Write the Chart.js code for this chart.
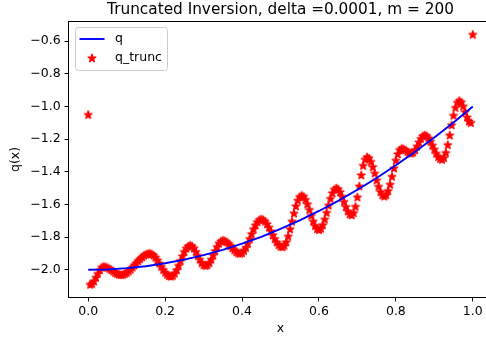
<!DOCTYPE html>
<html>
<head>
<meta charset="utf-8">
<script src="https://cdn.jsdelivr.net/npm/chart.js@4/dist/chart.umd.min.js"></script>
<style>
  html, body { margin: 0; padding: 0; background: #fff; overflow: hidden; }
  canvas { display: block; }
</style>
</head>
<body>
<canvas id="chart" width="500" height="343" style="width:500px;height:343px"></canvas>
<script>
// exact curve q
const qX = [0, 0.05, 0.1, 0.15, 0.2, 0.25, 0.3, 0.35, 0.4, 0.45, 0.5,
  0.55, 0.6, 0.65, 0.7, 0.75, 0.8, 0.85, 0.9, 0.95, 1];
const qY = [-2.0, -1.998, -1.99, -1.978, -1.96, -1.938, -1.91, -1.878, -1.84, -1.798, -1.75,
  -1.698, -1.64, -1.578, -1.51, -1.438, -1.36, -1.278, -1.19, -1.098, -1.0];

// truncated inversion
const truncX = [
  0, 0.005, 0.01, 0.015, 0.02, 0.025, 0.03, 0.035, 0.04, 0.045,
  0.05, 0.055, 0.06, 0.065, 0.07, 0.075, 0.08, 0.085, 0.09, 0.095,
  0.1, 0.105, 0.11, 0.115, 0.12, 0.125, 0.13, 0.135, 0.14, 0.145,
  0.15, 0.155, 0.16, 0.165, 0.17, 0.175, 0.18, 0.185, 0.19, 0.195,
  0.2, 0.205, 0.21, 0.215, 0.22, 0.225, 0.23, 0.235, 0.24, 0.245,
  0.25, 0.255, 0.26, 0.265, 0.27, 0.275, 0.28, 0.285, 0.29, 0.295,
  0.3, 0.305, 0.31, 0.315, 0.32, 0.325, 0.33, 0.335, 0.34, 0.345,
  0.35, 0.355, 0.36, 0.365, 0.37, 0.375, 0.38, 0.385, 0.39, 0.395,
  0.4, 0.405, 0.41, 0.415, 0.42, 0.425, 0.43, 0.435, 0.44, 0.445,
  0.45, 0.455, 0.46, 0.465, 0.47, 0.475, 0.48, 0.485, 0.49, 0.495,
  0.5, 0.505, 0.51, 0.515, 0.52, 0.525, 0.53, 0.535, 0.54, 0.545,
  0.55, 0.555, 0.56, 0.565, 0.57, 0.575, 0.58, 0.585, 0.59, 0.595,
  0.6, 0.605, 0.61, 0.615, 0.62, 0.625, 0.63, 0.635, 0.64, 0.645,
  0.65, 0.655, 0.66, 0.665, 0.67, 0.675, 0.68, 0.685, 0.69, 0.695,
  0.7, 0.705, 0.71, 0.715, 0.72, 0.725, 0.73, 0.735, 0.74, 0.745,
  0.75, 0.755, 0.76, 0.765, 0.77, 0.775, 0.78, 0.785, 0.79, 0.795,
  0.8, 0.805, 0.81, 0.815, 0.82, 0.825, 0.83, 0.835, 0.84, 0.845,
  0.85, 0.855, 0.86, 0.865, 0.87, 0.875, 0.88, 0.885, 0.89, 0.895,
  0.9, 0.905, 0.91, 0.915, 0.92, 0.925, 0.93, 0.935, 0.94, 0.945,
  0.95, 0.955, 0.96, 0.965, 0.97, 0.975, 0.98, 0.985, 0.99, 0.995,
  1
];
const truncY = [
  -1.05, -2.09, -2.085, -2.069, -2.047, -2.023, -2.001, -1.985, -1.98, -1.982,
  -1.986, -1.993, -2.001, -2.009, -2.018, -2.024, -2.028, -2.03, -2.029, -2.024,
  -2.018, -2.009, -1.998, -1.985, -1.972, -1.958, -1.945, -1.933, -1.922, -1.912,
  -1.906, -1.901, -1.90, -1.903, -1.911, -1.924, -1.941, -1.960, -1.980, -1.999,
  -2.016, -2.029, -2.037, -2.04, -2.035, -2.022, -2.001, -1.974, -1.945, -1.916,
  -1.889, -1.868, -1.855, -1.85, -1.855, -1.868, -1.889, -1.913, -1.936, -1.957,
  -1.970, -1.975, -1.970, -1.957, -1.936, -1.911, -1.884, -1.859, -1.838, -1.825,
  -1.82, -1.822, -1.829, -1.840, -1.853, -1.867, -1.880, -1.891, -1.898, -1.90,
  -1.896, -1.883, -1.864, -1.839, -1.810, -1.780, -1.751, -1.726, -1.707, -1.694,
  -1.69, -1.693, -1.704, -1.719, -1.740, -1.763, -1.787, -1.810, -1.831, -1.847,
  -1.857, -1.86, -1.852, -1.830, -1.795, -1.751, -1.703, -1.654, -1.610, -1.575,
  -1.553, -1.545, -1.551, -1.570, -1.598, -1.632, -1.668, -1.703, -1.730, -1.749,
  -1.755, -1.747, -1.725, -1.691, -1.650, -1.605, -1.564, -1.530, -1.508, -1.50,
  -1.506, -1.524, -1.551, -1.583, -1.614, -1.641, -1.659, -1.665, -1.651, -1.613,
  -1.555, -1.488, -1.420, -1.362, -1.324, -1.31, -1.317, -1.338, -1.370, -1.409,
  -1.451, -1.490, -1.522, -1.543, -1.55, -1.541, -1.516, -1.477, -1.429, -1.378,
  -1.330, -1.291, -1.266, -1.257, -1.260, -1.267, -1.277, -1.284, -1.287, -1.281,
  -1.266, -1.244, -1.219, -1.197, -1.181, -1.176, -1.180, -1.193, -1.213, -1.238,
  -1.263, -1.288, -1.308, -1.320, -1.325, -1.314, -1.283, -1.235, -1.176, -1.114,
  -1.055, -1.007, -0.976, -0.965, -0.974, -0.999, -1.033, -1.066, -1.091, -1.10,
  -0.56
];

const xTicks = [0, 0.2, 0.4, 0.6, 0.8, 1.0];
const yTicks = [-2.0, -1.8, -1.6, -1.4, -1.2, -1.0, -0.8, -0.6];

const FONT = "'DejaVu Sans', sans-serif";

// filled five point star like matplotlib's '*' marker
function makeStar(color) {
  const c = document.createElement("canvas");
  c.width = 12;
  c.height = 12;
  const g = c.getContext("2d");
  const R = 4.1, r = R * 0.382;
  g.beginPath();
  for (let i = 0; i < 10; i++) {
    const rad = i % 2 === 0 ? R : r;
    const a = -Math.PI / 2 + (i * Math.PI) / 5;
    const px = 6 + rad * Math.cos(a);
    const py = 6.3 + rad * Math.sin(a);
    if (i === 0) g.moveTo(px, py); else g.lineTo(px, py);
  }
  g.closePath();
  g.fillStyle = color;
  g.fill();
  g.lineWidth = 1.3;
  g.lineJoin = "round";
  g.strokeStyle = color;
  g.stroke();
  return c;
}
const star = makeStar("#ff0000");

const frame = {
  id: "frame",
  afterDatasetsDraw(chart) {
    const { ctx, chartArea: a } = chart;
    ctx.save();
    ctx.strokeStyle = "#000";
    ctx.lineWidth = 1;
    ctx.strokeRect(a.left - 0.5, a.top - 0.5, a.right - a.left + 1, a.bottom - a.top + 1);
    ctx.restore();
  },
  afterDraw(chart) {
    // matplotlib style legend box in the upper left
    const { ctx, chartArea: a } = chart;
    const ds = chart.data.datasets;
    const bx = a.left + 6.5, by = a.top + 5.5, bw = 92, bh = 43;
    ctx.save();
    ctx.beginPath();
    ctx.roundRect(bx, by, bw, bh, 3);
    ctx.fillStyle = "rgba(255,255,255,0.8)";
    ctx.fill();
    ctx.strokeStyle = "#cccccc";
    ctx.lineWidth = 1;
    ctx.stroke();

    ctx.beginPath();
    ctx.moveTo(bx + 4, by + 11.5);
    ctx.lineTo(bx + 29, by + 11.5);
    ctx.strokeStyle = ds[0].borderColor;
    ctx.lineWidth = 1.9;
    ctx.stroke();
    ctx.drawImage(star, bx + 16.5 - 6, by + 30.5 - 6);

    ctx.fillStyle = "#000";
    ctx.font = "12.5px " + FONT;
    ctx.textBaseline = "middle";
    ctx.textAlign = "left";
    ctx.fillText(ds[0].label, bx + 39.5, by + 11.5);
    ctx.fillText(ds[1].label, bx + 39.5, by + 30.5);
    ctx.restore();
  },
};

const data = {
  datasets: [
    {
      label: "q",
      data: qX.map((x, i) => ({ x, y: qY[i] })),
      showLine: true,
      borderColor: "#0000ff",
      borderWidth: 1.9,
      pointRadius: 0,
      fill: false,
    },
    {
      label: "q_trunc",
      data: truncX.map((x, i) => ({ x, y: truncY[i] })),
      showLine: false,
      pointStyle: star,
      pointRadius: 5,
      backgroundColor: "#ff0000",
      borderColor: "#ff0000",
    },
  ],
};

const tickGrid = {
  display: true,
  drawOnChartArea: false,
  drawTicks: true,
  tickLength: 4.4,
  tickWidth: 1,
  tickColor: "#000",
};

const config = {
  type: "scatter",
  data,
  options: {
    responsive: false,
    animation: false,
    layout: { padding: { left: 0, right: 8, top: 0, bottom: 0 } },
    scales: {
      x: {
        type: "linear",
        min: -0.05,
        max: 1.05,
        grid: tickGrid,
        border: { display: false },
        afterBuildTicks: (s) => { s.ticks = xTicks.map((v) => ({ value: v })); },
        afterFit: (s) => { s.height = 46; },
        ticks: {
          color: "#000",
          padding: 3,
          font: { family: FONT, size: 12.5 },
          maxRotation: 0,
          callback: (v) => Number(v).toFixed(1),
        },
        title: {
          display: true,
          text: "x",
          color: "#000",
          font: { family: FONT, size: 12.5 },
          padding: { top: 0, bottom: 6.5 },
        },
      },
      y: {
        type: "linear",
        min: -2.1665,
        max: -0.4835,
        grid: tickGrid,
        border: { display: false },
        afterBuildTicks: (s) => { s.ticks = yTicks.map((v) => ({ value: v })); },
        afterFit: (s) => { s.width = 69; },
        ticks: {
          color: "#000",
          padding: 4,
          font: { family: FONT, size: 12.5 },
          callback: (v) => Number(v).toFixed(1).replace("-", "\u2212"),
        },
        title: {
          display: true,
          text: "q(x)",
          color: "#000",
          font: { family: FONT, size: 12.5 },
          padding: { top: 8, bottom: 0 },
        },
      },
    },
    plugins: {
      title: {
        display: true,
        fullSize: false,
        text: "Truncated Inversion, delta =0.0001, m = 200",
        color: "#000",
        font: { family: FONT, size: 15.3, weight: "normal", lineHeight: 1 },
        padding: { top: 2, bottom: 4.7 },
      },
      legend: { display: false },
      tooltip: { enabled: false },
    },
  },
  plugins: [frame],
};

new Chart(document.getElementById("chart"), config);
</script>
</body>
</html>
